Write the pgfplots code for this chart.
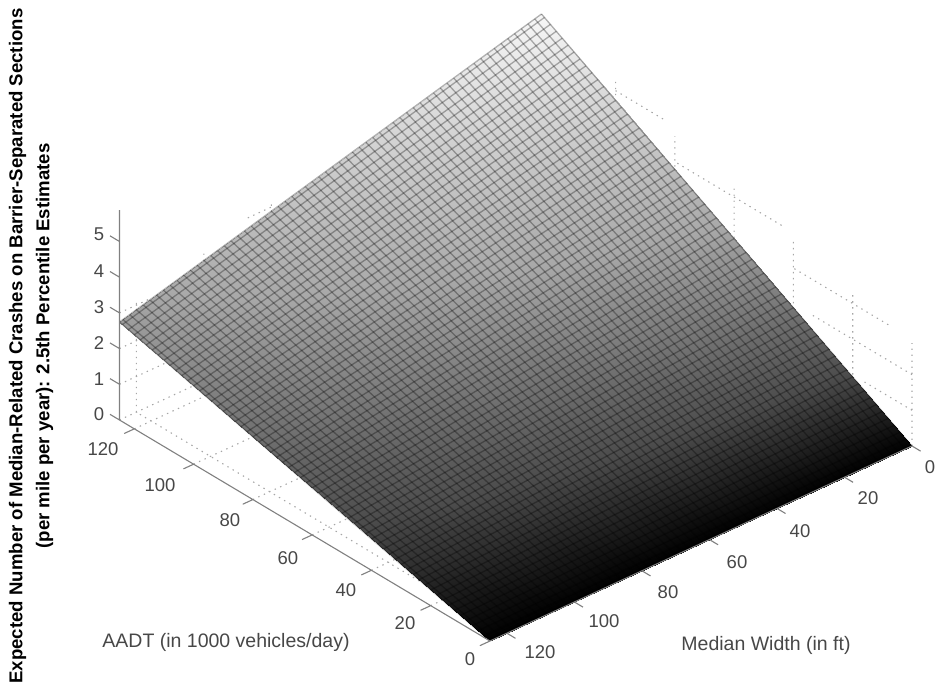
\documentclass[border=0pt]{standalone}
\usepackage{fontspec}
\setmainfont{Liberation Sans}
\usepackage{pgfplots}
\pgfplotsset{compat=1.18}
\newcommand{\TL}[3]{\node[text=black!72,font=\fontsize{18.5}{20}\selectfont] at (#1pt,{687pt-#2pt}) {#3};}
\newcommand{\TT}[3]{\node[text=black!72,font=\fontsize{19.5}{20}\selectfont] at (#1pt,{687pt-#2pt}) {#3};}
\begin{document}
\begin{tikzpicture}
\path[use as bounding box] (0pt,0pt) rectangle (938pt,687pt);
\begin{axis}[at={(912pt,241pt)},anchor=origin,hide axis,
  x={(-3.376pt,-1.56pt)},y={(-2.964pt,1.768pt)},z={(0pt,35.7pt)},
  xmin=0,xmax=125,ymin=0,ymax=125,zmin=0,zmax=5.91,clip=false,
  colormap={tgt}{gray(0cm)=(0); gray(1cm)=(.3); gray(3cm)=(.66); gray(6cm)=(.98)},
  point meta min=0,point meta max=6]
% grid on floor and back walls
\addplot3[no marks,gray!70,line width=1.1pt,dash pattern=on 1.4pt off 4.6pt,empty line=jump] table {
M A z
120 0 0
120 125 0

100 0 0
100 125 0

80 0 0
80 125 0

125 120 0
0 120 0

125 100 0
0 100 0

125 80 0
0 80 0

125 60 0
0 60 0

125 40 0
0 40 0

125 20 0
0 20 0

125 125 0
0 125 0

125 125 1
0 125 1

125 125 2
0 125 2

125 125 3
116 125 3

87 125 4
80 125 4

120 125 0
120 125 3.19

100 125 0
100 125 3.6

80 125 0
80 125 4.2

0 0 0
0 0 2.88

0 20 0
0 20 3.24

0 40 0
0 40 3.79

0 60 0
0 60 4.34

0 80 0
0 80 4.72

0 100 0
0 100 5.3

0 0 1
0 16 1

0 0 2
0 34 2

0 8 3
0 40 3

0 44 4
0 80 4

0 84 5
0 100 5
};
% surface fill
\addplot3[surf,shader=interp,mesh/rows=6] table {
M A z
0 0 0
25 0 0
50 0 0
75 0 0
100 0 0
125 0 0

0 25 1.182
25 25 1.055
50 25 0.929
75 25 0.802
100 25 0.675
125 25 0.549

0 50 2.364
25 50 2.111
50 50 1.857
75 50 1.604
100 50 1.351
125 50 1.098

0 75 3.546
25 75 3.166
50 75 2.786
75 75 2.406
100 75 2.027
125 75 1.647

0 100 4.728
25 100 4.222
50 100 3.715
75 100 3.209
100 100 2.702
125 100 2.196

0 125 5.91
25 125 5.277
50 125 4.644
75 125 4.011
100 125 3.378
125 125 2.745
};
% mesh lines of constant median width
\addplot3[no marks,black,opacity=.3,line width=1.3pt,empty line=jump] table {
M A z
0 0 0
0 125 5.91

2 0 0
2 125 5.86

4 0 0
4 125 5.81

6 0 0
6 125 5.76

8 0 0
8 125 5.71

10 0 0
10 125 5.66

12 0 0
12 125 5.61

14 0 0
14 125 5.56

16 0 0
16 125 5.50

18 0 0
18 125 5.45

20 0 0
20 125 5.40

22 0 0
22 125 5.35

24 0 0
24 125 5.30

26 0 0
26 125 5.25

28 0 0
28 125 5.20

30 0 0
30 125 5.15

32 0 0
32 125 5.10

34 0 0
34 125 5.05

36 0 0
36 125 5.00

38 0 0
38 125 4.95

40 0 0
40 125 4.90

42 0 0
42 125 4.85

44 0 0
44 125 4.80

46 0 0
46 125 4.74

48 0 0
48 125 4.69

50 0 0
50 125 4.64

52 0 0
52 125 4.59

54 0 0
54 125 4.54

56 0 0
56 125 4.49

58 0 0
58 125 4.44

60 0 0
60 125 4.39

62 0 0
62 125 4.34

64 0 0
64 125 4.29

66 0 0
66 125 4.24

68 0 0
68 125 4.19

70 0 0
70 125 4.14

72 0 0
72 125 4.09

74 0 0
74 125 4.04

76 0 0
76 125 3.99

78 0 0
78 125 3.93

80 0 0
80 125 3.88

82 0 0
82 125 3.83

84 0 0
84 125 3.78

86 0 0
86 125 3.73

88 0 0
88 125 3.68

90 0 0
90 125 3.63

92 0 0
92 125 3.58

94 0 0
94 125 3.53

96 0 0
96 125 3.48

98 0 0
98 125 3.43

100 0 0
100 125 3.38

102 0 0
102 125 3.33

104 0 0
104 125 3.28

106 0 0
106 125 3.23

108 0 0
108 125 3.17

110 0 0
110 125 3.12

112 0 0
112 125 3.07

114 0 0
114 125 3.02

116 0 0
116 125 2.97

118 0 0
118 125 2.92

120 0 0
120 125 2.87

122 0 0
122 125 2.82

124 0 0
124 125 2.77

125 0 0
125 125 2.745
};
% mesh lines of constant AADT
\addplot3[no marks,black,opacity=.3,line width=1.3pt,empty line=jump] table {
M A z
0 2 .095
125 2 .044

0 4 .189
125 4 .088

0 6 .284
125 6 .132

0 8 .378
125 8 .176

0 10 .473
125 10 .220

0 12 .567
125 12 .264

0 14 .662
125 14 .307

0 16 .756
125 16 .351

0 18 .851
125 18 .395

0 20 .946
125 20 .439

0 22 1.040
125 22 .483

0 24 1.135
125 24 .527

0 26 1.229
125 26 .571

0 28 1.324
125 28 .615

0 30 1.418
125 30 .659

0 32 1.513
125 32 .703

0 34 1.608
125 34 .747

0 36 1.702
125 36 .791

0 38 1.797
125 38 .834

0 40 1.891
125 40 .878

0 42 1.986
125 42 .922

0 44 2.080
125 44 .966

0 46 2.175
125 46 1.010

0 48 2.269
125 48 1.054

0 50 2.364
125 50 1.098

0 52 2.459
125 52 1.142

0 54 2.553
125 54 1.186

0 56 2.648
125 56 1.230

0 58 2.742
125 58 1.274

0 60 2.837
125 60 1.318

0 62 2.931
125 62 1.362

0 64 3.026
125 64 1.405

0 66 3.120
125 66 1.449

0 68 3.215
125 68 1.493

0 70 3.310
125 70 1.537

0 72 3.404
125 72 1.581

0 74 3.499
125 74 1.625

0 76 3.593
125 76 1.669

0 78 3.688
125 78 1.713

0 80 3.782
125 80 1.757

0 82 3.877
125 82 1.801

0 84 3.972
125 84 1.845

0 86 4.066
125 86 1.889

0 88 4.161
125 88 1.932

0 90 4.255
125 90 1.976

0 92 4.350
125 92 2.020

0 94 4.444
125 94 2.064

0 96 4.539
125 96 2.108

0 98 4.633
125 98 2.152

0 100 4.728
125 100 2.196

0 102 4.823
125 102 2.240

0 104 4.917
125 104 2.284

0 106 5.012
125 106 2.328

0 108 5.106
125 108 2.372

0 110 5.201
125 110 2.416

0 112 5.295
125 112 2.460

0 114 5.390
125 114 2.503

0 116 5.484
125 116 2.547

0 118 5.579
125 118 2.591

0 120 5.674
125 120 2.635

0 122 5.768
125 122 2.679

0 124 5.863
125 124 2.723

0 125 5.910
125 125 2.745
};
% axis lines and ticks
\addplot3[no marks,black!50,line width=1.1pt,empty line=jump] table {
M A z
0 0 0
125 0 0
125 125 0
125 125 5.88

0 0 0
0 -2.9 0

20 0 0
20 -2.9 0

40 0 0
40 -2.9 0

60 0 0
60 -2.9 0

80 0 0
80 -2.9 0

100 0 0
100 -2.9 0

120 0 0
120 -2.9 0

125 0 0
128 0 0

125 20 0
128 20 0

125 40 0
128 40 0

125 60 0
128 60 0

125 80 0
128 80 0

125 100 0
128 100 0

125 120 0
128 120 0

125 125 0
125 128.2 0

125 125 1
125 128.2 1

125 125 2
125 128.2 2

125 125 3
125 128.2 3

125 125 4
125 128.2 4

125 125 5
125 128.2 5
};
\end{axis}
\TL{99}{234}{5}\TL{99}{271}{4}\TL{99}{307}{3}\TL{99}{343}{2}\TL{99}{379}{1}\TL{99}{414}{0}
\TL{103}{449}{120}\TL{160}{485}{100}\TL{230}{520}{80}\TL{288}{558}{60}\TL{346}{590}{40}\TL{405}{623}{20}\TL{470}{659}{0}
\TL{930}{467}{0}\TL{868}{498}{20}\TL{800}{531}{40}\TL{737}{562}{60}\TL{668}{592}{80}\TL{604}{621}{100}\TL{540}{652}{120}
\TT{226}{642}{AADT (in 1000 vehicles/day)}
\TT{766}{645}{Median Width (in ft)}
\node[rotate=90,font=\bfseries\fontsize{18.6}{27}\selectfont,align=center] at (31pt,{687pt-346pt}) {Expected Number of Median-Related Crashes on Barrier-Separated Sections\\(per mile per year): 2.5th Percentile Estimates};
\end{tikzpicture}
\end{document}
